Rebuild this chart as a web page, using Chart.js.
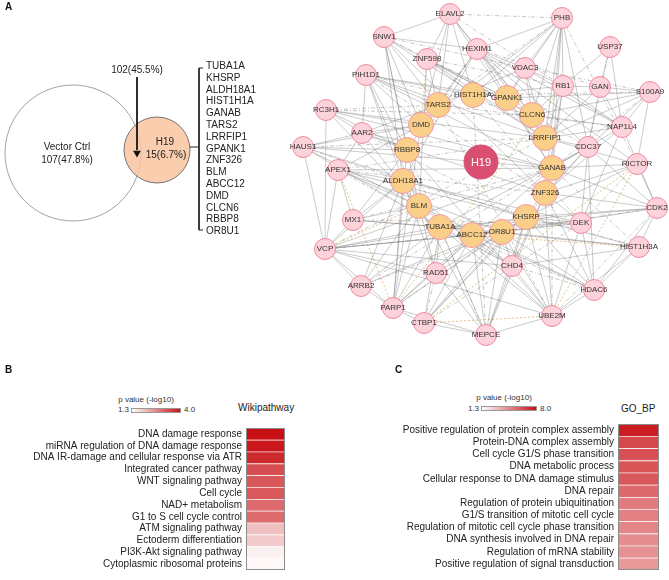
<!DOCTYPE html>
<html>
<head>
<meta charset="utf-8">
<script src="https://cdn.jsdelivr.net/npm/chart.js@4.4.1/dist/chart.umd.min.js"></script>
<style>
  body { margin: 0; background: #fff; font-family: Arial, "Liberation Sans", sans-serif; color: #222; }
  #fig { position: relative; width: 669px; height: 580px; overflow: hidden; }
  canvas { position: absolute; }
  .t { position: absolute; white-space: nowrap; line-height: 1; }
  .c { transform: translate(-50%, -50%); }
  .l { transform: translate(0, -50%); }
  .r { transform: translate(-100%, -50%); }
  .panel { font-weight: bold; font-size: 10px; color: #111; }
  .node { font-size: 8px; color: #333; }
  .hub { font-size: 11px; color: #fff; }
  .venn { font-size: 10px; color: #222; }
  .genes { position: absolute; left: 206px; top: 60px; font-size: 10px; line-height: 11.8px; color: #222; }
  .legend-title { font-size: 8px; color: #333; }
  .legend-bar { position: absolute; height: 5px; border: 1px solid #999; box-sizing: border-box; }
  .col-title { font-size: 10px; color: #222; }
</style>
</head>
<body>
<div id="fig">
  <canvas id="net" width="669" height="372" style="left:0;top:0"></canvas>
  <canvas id="wiki" width="290" height="162" style="left:0;top:418px"></canvas>
  <canvas id="gobp" width="329" height="166" style="left:340px;top:414px"></canvas>
</div>
<script>
// ---- panel A: venn ----
const vennSets = ["Vector Ctrl", "H19"];
const vennCounts = [107, 15];
const vennPct = ["47.8%", "6.7%"];
const sharedCount = 102;
const sharedPct = "45.5%";
const h19Genes = ["TUBA1A", "KHSRP", "ALDH18A1", "HIST1H1A", "GANAB", "TARS2", "LRRFIP1",
  "GPANK1", "ZNF326", "BLM", "ABCC12", "DMD", "CLCN6", "RBBP8", "OR8U1"];

// ---- panel A: network (layout coordinates) ----
const nodeNames = ["ELAVL2","PHB","SNW1","USP37","HEXIM1","ZNF598","VDAC3","PIH1D1","RB1","GAN",
  "S100A9","RC3H1","NAP1L4","AAR2","HAUS1","CDC37","RICTOR","APEX1","CDK2","MX1",
  "DEK","HIST1H3A","VCP","CHD4","RAD51","ARRB2","HDAC6","PARP1","UBE2M","CTBP1","MEPCE",
  "TARS2","HIST1H1A","GPANK1","DMD","CLCN6","LRRFIP1","RBBP8","GANAB","ALDH18A1","ZNF326",
  "BLM","KHSRP","TUBA1A","OR8U1","ABCC12","H19"];
const nodeX = [450,562,384,610,477,427,525,366,563,600,
  650,326,622,362,303,588,637,338,657,353,
  581,639,325,512,436,361,594,393,552,424,486,
  438,473,507,421,532,545,407,552,403,545,
  419,526,440,502,472,481];
const nodeY = [14,18,37,47,49,59,68,75,86,87,
  92,110,127,133,147,147,164,170,208,220,
  223,247,249,266,273,286,290,308,316,323,335,
  105,95,98,125,115,138,150,168,181,193,
  206,217,227,232,235,162];
const nodeGroup = nodeNames.map(n => n === "H19" ? "hub" : (h19Genes.includes(n) ? "gene" : "partner"));

const solidEdges = [
  ["ELAVL2","SNW1"],["ELAVL2","HEXIM1"],["ELAVL2","HIST1H1A"],["ELAVL2","TARS2"],["ELAVL2","ZNF598"],
  ["ELAVL2","GANAB"],["ELAVL2","CLCN6"],["ELAVL2","DMD"],
  ["PHB","HEXIM1"],["PHB","VDAC3"],["PHB","RB1"],["PHB","GPANK1"],["PHB","CLCN6"],["PHB","LRRFIP1"],
  ["PHB","GANAB"],["PHB","HIST1H1A"],["PHB","CDC37"],["PHB","ZNF326"],["PHB","DMD"],
  ["SNW1","HEXIM1"],["SNW1","DMD"],["SNW1","RBBP8"],["SNW1","ALDH18A1"],["SNW1","BLM"],
  ["SNW1","LRRFIP1"],["SNW1","ZNF326"],["SNW1","TARS2"],["SNW1","CLCN6"],
  ["USP37","GAN"],["USP37","RB1"],["USP37","NAP1L4"],
  ["HEXIM1","VDAC3"],["HEXIM1","CLCN6"],["HEXIM1","NAP1L4"],["HEXIM1","LRRFIP1"],["HEXIM1","GANAB"],
  ["HEXIM1","RICTOR"],["HEXIM1","CDC37"],["HEXIM1","RBBP8"],["HEXIM1","ALDH18A1"],
  ["ZNF598","TARS2"],["ZNF598","HIST1H1A"],["ZNF598","CLCN6"],["ZNF598","GPANK1"],["ZNF598","LRRFIP1"],
  ["ZNF598","BLM"],
  ["VDAC3","GPANK1"],["VDAC3","RB1"],["VDAC3","NAP1L4"],["VDAC3","LRRFIP1"],["VDAC3","CLCN6"],["VDAC3","TARS2"],
  ["PIH1D1","AAR2"],["PIH1D1","TARS2"],["PIH1D1","HIST1H1A"],["PIH1D1","RBBP8"],["PIH1D1","BLM"],
  ["PIH1D1","DMD"],["PIH1D1","GANAB"],["PIH1D1","LRRFIP1"],["PIH1D1","ALDH18A1"],["PIH1D1","GPANK1"],
  ["RB1","GAN"],["RB1","CLCN6"],["RB1","NAP1L4"],["RB1","LRRFIP1"],["RB1","GANAB"],["RB1","ZNF326"],
  ["RB1","HIST1H1A"],
  ["GAN","S100A9"],["GAN","CDC37"],["GAN","NAP1L4"],["GAN","LRRFIP1"],
  ["S100A9","NAP1L4"],["S100A9","CLCN6"],["S100A9","RICTOR"],["S100A9","LRRFIP1"],["S100A9","GPANK1"],
  ["S100A9","CDC37"],
  ["RC3H1","VCP"],["RC3H1","AAR2"],["RC3H1","DMD"],["RC3H1","GANAB"],["RC3H1","LRRFIP1"],
  ["RC3H1","RBBP8"],["RC3H1","BLM"],
  ["NAP1L4","LRRFIP1"],["NAP1L4","CDK2"],["NAP1L4","GANAB"],["NAP1L4","DEK"],["NAP1L4","CLCN6"],
  ["NAP1L4","ZNF326"],
  ["AAR2","HAUS1"],["AAR2","DMD"],["AAR2","APEX1"],["AAR2","RBBP8"],["AAR2","ZNF326"],["AAR2","TARS2"],
  ["AAR2","BLM"],["AAR2","GANAB"],
  ["HAUS1","VCP"],["HAUS1","DMD"],["HAUS1","TUBA1A"],["HAUS1","GANAB"],["HAUS1","RBBP8"],["HAUS1","BLM"],
  ["HAUS1","KHSRP"],
  ["CDC37","LRRFIP1"],["CDC37","GANAB"],["CDC37","CDK2"],["CDC37","DEK"],["CDC37","HDAC6"],
  ["CDC37","ZNF326"],["CDC37","KHSRP"],["CDC37","TUBA1A"],
  ["RICTOR","GANAB"],["RICTOR","CDK2"],["RICTOR","ZNF326"],["RICTOR","LRRFIP1"],["RICTOR","KHSRP"],
  ["APEX1","DMD"],["APEX1","VCP"],["APEX1","ALDH18A1"],["APEX1","BLM"],["APEX1","OR8U1"],["APEX1","MX1"],
  ["APEX1","GANAB"],["APEX1","KHSRP"],
  ["CDK2","HIST1H3A"],["CDK2","KHSRP"],["CDK2","ZNF326"],["CDK2","HDAC6"],["CDK2","GANAB"],["CDK2","OR8U1"],
  ["CDK2","TUBA1A"],
  ["MX1","VCP"],["MX1","BLM"],["MX1","TUBA1A"],["MX1","ALDH18A1"],["MX1","OR8U1"],["MX1","RBBP8"],
  ["DEK","KHSRP"],["DEK","HDAC6"],["DEK","UBE2M"],["DEK","ZNF326"],["DEK","TUBA1A"],["DEK","ABCC12"],
  ["DEK","ALDH18A1"],
  ["HIST1H3A","OR8U1"],["HIST1H3A","HDAC6"],["HIST1H3A","UBE2M"],["HIST1H3A","CHD4"],
  ["HIST1H3A","KHSRP"],["HIST1H3A","TUBA1A"],
  ["VCP","ARRB2"],["VCP","PARP1"],["VCP","RAD51"],["VCP","TUBA1A"],["VCP","CHD4"],["VCP","UBE2M"],
  ["VCP","ABCC12"],["VCP","KHSRP"],["VCP","ALDH18A1"],["VCP","GANAB"],["VCP","OR8U1"],
  ["CHD4","ABCC12"],["CHD4","OR8U1"],["CHD4","UBE2M"],["CHD4","MEPCE"],["CHD4","TUBA1A"],["CHD4","KHSRP"],
  ["CHD4","BLM"],["CHD4","ZNF326"],
  ["RAD51","TUBA1A"],["RAD51","BLM"],["RAD51","MEPCE"],["RAD51","ABCC12"],["RAD51","KHSRP"],["RAD51","ALDH18A1"],
  ["ARRB2","BLM"],["ARRB2","PARP1"],["ARRB2","TUBA1A"],["ARRB2","KHSRP"],["ARRB2","ALDH18A1"],
  ["HDAC6","UBE2M"],["HDAC6","KHSRP"],["HDAC6","ZNF326"],["HDAC6","ABCC12"],["HDAC6","OR8U1"],["HDAC6","BLM"],
  ["PARP1","CTBP1"],["PARP1","TUBA1A"],["PARP1","ABCC12"],["PARP1","DMD"],["PARP1","ALDH18A1"],["PARP1","MEPCE"],
  ["PARP1","BLM"],["PARP1","RBBP8"],["PARP1","OR8U1"],["PARP1","GANAB"],
  ["UBE2M","MEPCE"],["UBE2M","OR8U1"],["UBE2M","KHSRP"],["UBE2M","ZNF326"],["UBE2M","TUBA1A"],
  ["UBE2M","ALDH18A1"],["UBE2M","RBBP8"],
  ["CTBP1","MEPCE"],["CTBP1","ABCC12"],["CTBP1","KHSRP"],["CTBP1","OR8U1"],["CTBP1","TUBA1A"],["CTBP1","ZNF326"],
  ["MEPCE","ABCC12"],["MEPCE","TUBA1A"],["MEPCE","OR8U1"],["MEPCE","KHSRP"],["MEPCE","ZNF326"],["MEPCE","BLM"]
];
const dashedEdges = [
  ["ELAVL2","PHB"],["PHB","TARS2"],["PHB","RICTOR"],["SNW1","GPANK1"],["USP37","CDC37"],
  ["HEXIM1","GAN"],["HEXIM1","TARS2"],["HEXIM1","DMD"],["ZNF598","RB1"],["VDAC3","S100A9"],
  ["PIH1D1","ZNF326"],["PIH1D1","CLCN6"],["S100A9","HIST1H1A"],["RC3H1","TARS2"],["NAP1L4","TARS2"],
  ["AAR2","KHSRP"],["HAUS1","ALDH18A1"],["CDC37","CLCN6"],["RICTOR","DEK"],["APEX1","LRRFIP1"],
  ["APEX1","CHD4"],["CDK2","UBE2M"],["MX1","GANAB"],["DEK","HIST1H1A"],["HIST1H3A","GANAB"],
  ["VCP","LRRFIP1"],["VCP","DEK"],["CHD4","HDAC6"],["RAD51","CTBP1"],["ARRB2","GANAB"],
  ["HDAC6","TUBA1A"],["PARP1","KHSRP"],["UBE2M","GANAB"],["UBE2M","TARS2"],["CTBP1","DEK"],
  ["MEPCE","HIST1H1A"],["MEPCE","RBBP8"],["SNW1","VDAC3"],["ELAVL2","RB1"],["HAUS1","LRRFIP1"],
  ["RC3H1","CLCN6"],["APEX1","ZNF326"],["MX1","DEK"],["ARRB2","OR8U1"],["HIST1H3A","ALDH18A1"],
  ["S100A9","GANAB"],["CDK2","ABCC12"]
];
const highlightEdges = [
  ["ZNF598","DMD"],["APEX1","PARP1"],["VCP","BLM"],["RB1","PARP1"],
  ["RICTOR","CTBP1"],["RICTOR","UBE2M"],["CTBP1","UBE2M"],["ABCC12","HIST1H3A"]
];

// ---- panels B and C: enrichment ----
const wikiTerms = ["DNA damage response","miRNA regulation of DNA damage response",
  "DNA IR-damage and cellular response via ATR","Integrated cancer pathway","WNT signaling pathway",
  "Cell cycle","NAD+ metabolism","G1 to S cell cycle control","ATM signaling pathway",
  "Ectoderm differentiation","PI3K-Akt signaling pathway","Cytoplasmic ribosomal proteins"];
const wikiLogP = [4.0, 3.92, 3.7, 3.3, 3.2, 3.17, 2.98, 2.97, 2.02, 1.89, 1.46, 1.39];
const wikiRange = [1.3, 4.0];

const goTerms = ["Positive regulation of protein complex assembly","Protein-DNA complex assembly",
  "Cell cycle G1/S phase transition","DNA metabolic process","Cellular response to DNA damage stimulus",
  "DNA repair","Regulation of protein ubiquitination","G1/S transition of mitotic cell cycle",
  "Regulation of mitotic cell cycle phase transition","DNA synthesis involved in DNA repair",
  "Regulation of mRNA stability","Positive regulation of signal transduction"];
const goLogP = [7.6, 6.4, 6.2, 6.05, 6.0, 5.5, 5.0, 4.85, 4.7, 4.5, 4.35, 4.2];
const goRange = [1.3, 8.0];

const fig = document.getElementById("fig");
const HIGH = [200, 16, 20];

function heatColor(v, range) {
  const t = Math.max(0, Math.min(1, (v - range[0]) / (range[1] - range[0])));
  const c = HIGH.map(h => Math.round(255 + (h - 255) * t));
  return `rgb(${c[0]},${c[1]},${c[2]})`;
}

function addText(text, left, top, cls) {
  const el = document.createElement("div");
  el.className = "t " + cls;
  el.textContent = text;
  el.style.left = left + "px";
  el.style.top = top + "px";
  fig.appendChild(el);
  return el;
}

function pos(name) {
  const i = nodeNames.indexOf(name);
  return { x: nodeX[i], y: nodeY[i] };
}

function edgeSet(list, color, width, dash) {
  return list.map(([a, b]) => ({
    type: "scatter",
    data: [pos(a), pos(b)],
    showLine: true,
    pointRadius: 0,
    borderColor: color,
    borderWidth: width,
    borderDash: dash,
    order: 20
  }));
}

function nodeSet(group, fill, stroke, radius) {
  const idx = nodeNames.map((n, i) => i).filter(i => nodeGroup[i] === group);
  return {
    type: "scatter",
    data: idx.map(i => ({ x: nodeX[i], y: nodeY[i] })),
    pointRadius: radius,
    pointBackgroundColor: fill,
    pointBorderColor: stroke,
    pointBorderWidth: 1,
    order: group === "hub" ? 1 : (group === "gene" ? 2 : 3)
  };
}

const netChart = new Chart(document.getElementById("net"), {
  type: "scatter",
  data: {
    datasets: [
      ...edgeSet(solidEdges, "rgba(105,105,105,0.5)", 0.7, []),
      ...edgeSet(dashedEdges, "rgba(105,105,105,0.55)", 0.7, [4, 2, 1, 2]),
      ...edgeSet(highlightEdges, "rgba(215,165,70,0.85)", 0.8, [2, 2]),
      nodeSet("partner", "#fcd3da", "#f08aa0", 10.5),
      nodeSet("gene", "#f9cf8a", "#f29aa6", 12.5),
      nodeSet("hub", "#d84f72", "#d84f72", 17),
      // venn circles
      { type: "scatter", data: [{ x: 73, y: 153 }], pointRadius: 68, pointBackgroundColor: "rgba(0,0,0,0)",
        pointBorderColor: "#8a8a8a", pointBorderWidth: 0.8, order: 6 },
      { type: "scatter", data: [{ x: 157, y: 150 }], pointRadius: 33, pointBackgroundColor: "rgba(248,196,160,0.85)",
        pointBorderColor: "#555", pointBorderWidth: 0.8, order: 5 },
      // arrow
      { type: "scatter", data: [{ x: 137, y: 77 }, { x: 137, y: 150 }], showLine: true, pointRadius: 0,
        borderColor: "#111", borderWidth: 1, order: 4 },
      { type: "scatter", data: [{ x: 137, y: 153 }], pointStyle: "triangle", rotation: 180, pointRadius: 4.5,
        pointBackgroundColor: "#111", pointBorderColor: "#111", pointBorderWidth: 0, order: 4 },
      // bracket
      { type: "scatter", data: [{ x: 203, y: 68 }, { x: 199, y: 68 }, { x: 199, y: 230 }, { x: 203, y: 230 }],
        showLine: true, pointRadius: 0, borderColor: "#222", borderWidth: 1, order: 4 },
      { type: "scatter", data: [{ x: 190, y: 147 }, { x: 199, y: 147 }],
        showLine: true, pointRadius: 0, borderColor: "#222", borderWidth: 1, order: 4 }
    ]
  },
  options: {
    responsive: false,
    animation: false,
    events: [],
    layout: { padding: 0, autoPadding: false },
    plugins: { legend: { display: false }, tooltip: { enabled: false } },
    scales: {
      x: { type: "linear", min: 0, max: 669, display: false },
      y: { type: "linear", min: 0, max: 372, reverse: true, display: false }
    }
  }
});

// text on panel A, placed through the chart's scales
const sx = v => netChart.scales.x.getPixelForValue(v);
const sy = v => netChart.scales.y.getPixelForValue(v);
nodeNames.forEach((n, i) => {
  addText(n, sx(nodeX[i]), sy(nodeY[i]), "c " + (nodeGroup[i] === "hub" ? "hub" : "node"));
});
addText(vennSets[0], sx(67), sy(147), "c venn");
addText(`${vennCounts[0]}(${vennPct[0]})`, sx(67), sy(160), "c venn");
addText(vennSets[1], sx(165), sy(142), "c venn");
addText(`${vennCounts[1]}(${vennPct[1]})`, sx(166), sy(155), "c venn");
addText(`${sharedCount}(${sharedPct})`, sx(137), sy(70), "c venn");
const geneBox = document.createElement("div");
geneBox.className = "genes";
geneBox.innerHTML = h19Genes.join("<br>");
fig.appendChild(geneBox);

// heatmaps
const boxPlugin = {
  id: "box",
  afterDatasetsDraw(chart) {
    const a = chart.chartArea, ctx = chart.ctx;
    ctx.save();
    ctx.strokeStyle = "#8c8c8c";
    ctx.lineWidth = 1;
    ctx.strokeRect(a.left + 0.5, a.top + 0.5, a.right - a.left - 1, a.bottom - a.top - 1);
    ctx.restore();
  }
};

function heatmap(id, terms, values, range, labelWidth, padding) {
  return new Chart(document.getElementById(id), {
    type: "bar",
    data: {
      labels: terms,
      datasets: [{
        data: values.map(() => [0, 1]),
        backgroundColor: values.map(v => heatColor(v, range)),
        borderColor: "rgba(255,255,255,0.4)",
        borderWidth: { top: 1, bottom: 0, left: 0, right: 0 },
        borderSkipped: false,
        barPercentage: 1,
        categoryPercentage: 1
      }]
    },
    options: {
      indexAxis: "y",
      responsive: false,
      animation: false,
      events: [],
      layout: { padding },
      plugins: { legend: { display: false }, tooltip: { enabled: false } },
      scales: {
        x: { min: 0, max: 1, display: false },
        y: {
          grid: { display: false, drawTicks: false },
          border: { display: false },
          ticks: { color: "#222", padding: 4, autoSkip: false,
            font: { family: "Arial, 'Liberation Sans', sans-serif", size: 10 } },
          afterFit(scale) { scale.width = labelWidth; }
        }
      }
    },
    plugins: [boxPlugin]
  });
}

heatmap("wiki", wikiTerms, wikiLogP, wikiRange, 246, { top: 4, bottom: 2, right: 5 });
heatmap("gobp", goTerms, goLogP, goRange, 278, { top: 5, bottom: 6, right: 10 });

function legend(range, titleX, titleY, barLeft, barRight, barY) {
  addText("p value (-log10)", titleX, titleY, "c legend-title");
  const bar = document.createElement("div");
  bar.className = "legend-bar";
  bar.style.left = barLeft + "px";
  bar.style.top = (barY - 2.5) + "px";
  bar.style.width = (barRight - barLeft) + "px";
  bar.style.background = `linear-gradient(to right, #fff, ${heatColor(range[1], range)})`;
  fig.appendChild(bar);
  addText(range[0].toFixed(1), barLeft - 2, barY, "r legend-title");
  addText(range[1].toFixed(1), barRight + 3, barY, "l legend-title");
}
legend(wikiRange, 146, 400, 131, 181, 410);
legend(goRange, 504, 398, 481, 537, 408.5);
addText("Wikipathway", 238, 408, "l col-title");
addText("GO_BP", 621, 409, "l col-title");

addText("A", 5, 7, "l panel");
addText("B", 5, 370, "l panel");
addText("C", 395, 370, "l panel");
</script>
</body>
</html>
